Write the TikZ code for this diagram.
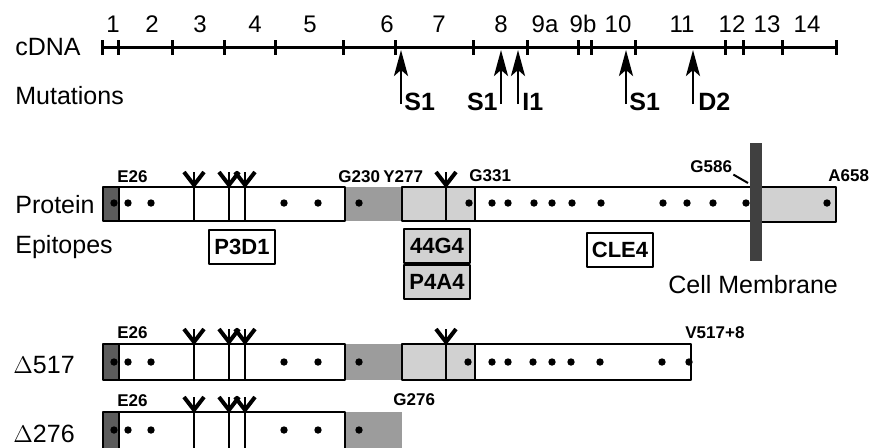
\documentclass[tikz,border=0pt]{standalone}
\usepackage{fontspec}
\setmainfont{Liberation Sans}
\usepackage{xcolor}
\usetikzlibrary{arrows.meta,positioning}
\definecolor{segdark}{gray}{0.36}
\definecolor{segmid}{gray}{0.61}
\definecolor{seglight}{gray}{0.82}
\definecolor{membrane}{gray}{0.25}
\tikzset{
  every picture/.style={line join=round, >=Stealth},
  rowlbl/.style={font=\fontsize{12.5}{14}\selectfont, inner sep=0pt, anchor=base west},
  exon/.style={font=\fontsize{12}{14}\selectfont, inner sep=0pt, anchor=base},
  mutlbl/.style={font=\fontsize{12.5}{14}\selectfont\bfseries, inner sep=0pt},
  reslbl/.style={font=\fontsize{8.5}{10}\selectfont\bfseries, inner sep=0pt, anchor=base west},
  epibox/.style={draw, line width=1pt, minimum width=33pt, minimum height=17pt, inner sep=0pt,
    font=\fontsize{11}{13}\selectfont\bfseries},
  mutarrow/.style={line width=1.3pt, -{Stealth[length=13pt, width=7pt, inset=3pt]}},
  seg/.style={draw, line width=1pt},
  glyarm/.style={line width=2pt},
  glyline/.style={line width=1.2pt},
  dot/.style={fill=black},
}

\begin{document}
\begin{tikzpicture}[x=0.5pt, y=-0.5pt]
\useasboundingbox (0,0) rectangle (873,447);
% cDNA line
\node[rowlbl] (cdna) at (15,55) {cDNA};
\node[rowlbl] (mut) at (15,104) {Mutations};
\draw[line width=1.5pt] (102,47) -- (836,47);
\foreach \tx in {102,118,172,224,275,343,395,473,527,578,591,635,725,743,782,836}
  \draw[line width=1.5pt] (\tx,40) -- (\tx,55);
\node[exon] (ex1) at (113,32) {1};
\node[exon] (ex2) at (152,32) {2};
\node[exon] (ex3) at (200,32) {3};
\node[exon] (ex4) at (255,32) {4};
\node[exon] (ex5) at (310,32) {5};
\node[exon] (ex6) at (387,32) {6};
\node[exon] (ex7) at (439,32) {7};
\node[exon] (ex8) at (501,32) {8};
\node[exon] (ex9a) at (545,32) {9a};
\node[exon] (ex9b) at (583,32) {9b};
\node[exon] (ex10) at (618,32) {10};
\node[exon] (ex11) at (682,32) {11};
\node[exon] (ex12) at (732,32) {12};
\node[exon] (ex13) at (767,32) {13};
\node[exon] (ex14) at (807,32) {14};
% mutations
\coordinate (s1a-b) at (401,104); \coordinate (s1a-t) at (401,50);
\coordinate (s1b-b) at (501,104); \coordinate (s1b-t) at (501,50);
\coordinate (i1-b) at (518,104);  \coordinate (i1-t) at (518,50);
\coordinate (s1c-b) at (626,104); \coordinate (s1c-t) at (626,50);
\coordinate (d2-b) at (693,104);  \coordinate (d2-t) at (693,50);
\foreach \m in {s1a,s1b,i1,s1c,d2}
  \draw[mutarrow] (\m-b) -- (\m-t);
\node[mutlbl, anchor=base west] (s1a) at (404,110) {S1};
\node[mutlbl, anchor=base east] (s1b) at (498,110) {S1};
\node[mutlbl, anchor=base west] (i1) at (522,110) {I1};
\node[mutlbl, anchor=base west] (s1c) at (629,110) {S1};
\node[mutlbl, anchor=base west] (d2) at (698,110) {D2};

% Protein row
\node[rowlbl] (prot) at (15,213) {Protein};
\node[rowlbl] (epi) at (15,253) {Epitopes};
\fill[segmid] (345,187) rectangle (402,221);
\draw[seg, fill=segdark] (103,187) rectangle (119,221);
\draw[seg, fill=white] (119,187) rectangle (345,221);
\draw[seg, fill=seglight] (402,187) rectangle (475,221);
\draw[seg, fill=white] (475,187) rectangle (752,221);
\draw[seg, fill=seglight] (756,187) rectangle (836,222);
\foreach \gx in {194,229,245,446} {
  \draw[glyarm] (\gx-10,172) -- (\gx,185) -- (\gx+10,172);
  \draw[glyline] (\gx,172) -- (\gx,221);
}
\foreach \dx in {114,128,151,284,318,359,469,492,508,534,552,572,601,663,687,713,746,827}
  \fill[dot] (\dx,203) circle (3.7);
\fill[membrane] (750,143) rectangle (762,261);
\node[reslbl] (e26a) at (117,182) {E26};
\node[reslbl] (g230) at (338,182) {G230};
\node[reslbl] (y277) at (383,182) {Y277};
\node[reslbl] (g331) at (469,181) {G331};
\node[reslbl] (g586) at (690,172) {G586};
\node[reslbl] (a658) at (828,181) {A658};
\coordinate (g586-tip) at (748,183);
\draw[line width=1pt] ([shift={(1,2)}]g586.south east) -- (g586-tip);
% epitopes
\node[epibox, fill=white] (p3d1) at (242,246.5) {P3D1};
\node[epibox, fill=seglight] (g44) at (437,246) {44G4};
\node[epibox, fill=seglight, below=0pt of g44] (p4a4) {P4A4};
\node[epibox, fill=white] (cle4) at (620,249.5) {CLE4};
\node[rowlbl] (cellm) at (668,293) {Cell Membrane};

% Delta 517 row
\node[rowlbl] (d517) at (13,373) {$\Delta$517};
\fill[segmid] (345,344) rectangle (402,380);
\draw[seg, fill=segdark] (103,344) rectangle (119,380);
\draw[seg, fill=white] (119,344) rectangle (345,380);
\draw[seg, fill=seglight] (402,344) rectangle (475,380);
\draw[seg, fill=white] (475,344) rectangle (691,380);
\foreach \gx in {194,229,245,446} {
  \draw[glyarm] (\gx-10,329) -- (\gx,342) -- (\gx+10,329);
  \draw[glyline] (\gx,329) -- (\gx,380);
}
\foreach \dx in {114,128,151,284,318,359,468,492,508,533,552,571,600,662,689}
  \fill[dot] (\dx,362) circle (3.7);
\node[reslbl] (e26b) at (117,338) {E26};
\node[reslbl] (v517) at (685,338) {V517+8};

% Delta 276 row
\node[rowlbl] (d276) at (13,442) {$\Delta$276};
\fill[segmid] (345,412) rectangle (402,449);
\draw[seg, fill=segdark] (103,412) rectangle (119,449);
\draw[seg, fill=white] (119,412) rectangle (345,449);
\foreach \gx in {194,229,245} {
  \draw[glyarm] (\gx-10,397) -- (\gx,410) -- (\gx+10,397);
  \draw[glyline] (\gx,397) -- (\gx,449);
}
\foreach \dx in {114,128,151,284,318,359}
  \fill[dot] (\dx,430) circle (3.7);
\node[reslbl] (e26c) at (117,406) {E26};
\node[reslbl] (g276) at (393,405) {G276};
\end{tikzpicture}
\end{document}
